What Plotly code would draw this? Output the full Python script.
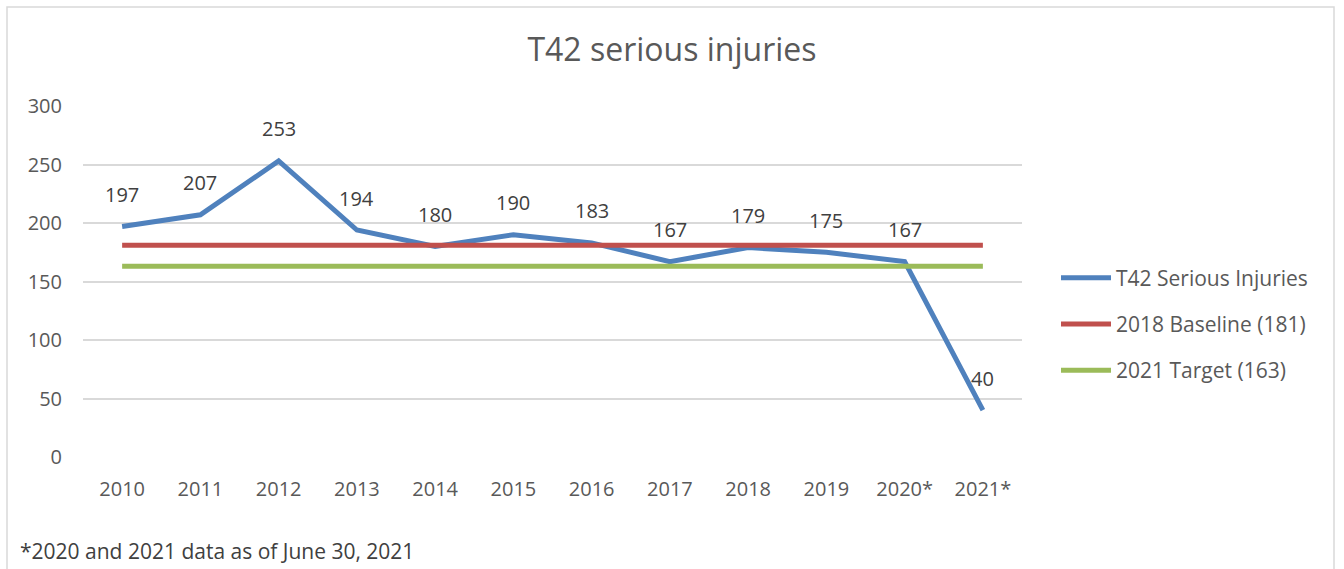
import plotly.graph_objects as go

years = ["2010", "2011", "2012", "2013", "2014", "2015", "2016", "2017", "2018", "2019", "2020*", "2021*"]
injuries = [197, 207, 253, 194, 180, 190, 183, 167, 179, 175, 167, 40]
baseline = [181] * 12
target = [163] * 12
y_ticks = [0, 50, 100, 150, 200, 250, 300]

FONT = "Open Sans"
TXT = "#595959"

L, R, T, B = 83, 1022, 106, 457
W, H = R - L, B - T
def px(xp):
    return (xp - L) / W
def py(yp):
    return (B - yp) / H

fig = go.Figure()
fig.add_trace(go.Scatter(x=years, y=injuries, mode="lines", name="T42 Serious Injuries", legendgroup="a",
                         line=dict(color="#4F81BD", width=5)))
fig.add_trace(go.Scatter(x=years, y=baseline, mode="lines", name="2018 Baseline (181)", legendgroup="b",
                         line=dict(color="#C0504D", width=5)))
fig.add_trace(go.Scatter(x=years, y=target, mode="lines", name="2021 Target (163)", legendgroup="c",
                         line=dict(color="#9BBB59", width=5)))

annotations = []
for i, v in enumerate(injuries):
    annotations.append(dict(x=i, y=v, xref="x", yref="y", text=str(v), showarrow=False,
                            yshift=32, font=dict(family=FONT, size=20, color="#404040")))
annotations.append(dict(x=px(18), y=py(551), xref="paper", yref="paper",
                        text="*2020 and 2021 data as of June 30, 2021",
                        showarrow=False, font=dict(family=FONT, size=21, color="#404040"),
                        xanchor="left", yanchor="middle"))

fig.update_layout(
    width=1344, height=569,
    margin=dict(l=L, r=1344 - R, t=T, b=569 - B),
    paper_bgcolor="white", plot_bgcolor="white",
    title=dict(text="T42 serious injuries", x=0.5, xref="container", xanchor="center",
               y=1 - 50 / 569, yanchor="middle",
               font=dict(family=FONT, size=32, color=TXT)),
    xaxis=dict(type="category", range=[-0.5, 11.5], showgrid=False, showline=False,
               ticks="", tickfont=dict(family=FONT, size=20, color=TXT), ticklabelstandoff=18),
    yaxis=dict(range=[0, 300], tickvals=y_ticks, showgrid=True, gridcolor="#D9D9D9", gridwidth=1.5,
               zeroline=False, showline=False, ticks="", ticklabelstandoff=20,
               tickfont=dict(family=FONT, size=20, color=TXT)),
    legend=dict(x=px(1056), y=py(324), xanchor="left", yanchor="middle", itemwidth=50,
                traceorder="grouped", tracegroupgap=16,
                font=dict(family=FONT, size=21, color=TXT),
                bgcolor="rgba(0,0,0,0)"),
    annotations=annotations,
    shapes=[dict(type="rect", xref="paper", yref="paper", x0=px(7), x1=px(1334), y0=py(620), y1=py(7),
                 line=dict(color="#D9D9D9", width=1.5), fillcolor="rgba(0,0,0,0)", layer="below")],
)

fig.write_html("out.html", config={"displayModeBar": False},
               post_script="document.body.style.margin='0';")
